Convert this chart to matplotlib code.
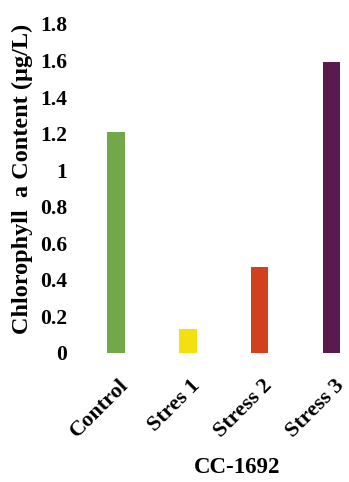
import matplotlib
matplotlib.use("Agg")
import matplotlib.pyplot as plt
from matplotlib.transforms import ScaledTranslation

categories = ["Control", "Stres 1", "Stress 2", "Stress 3"]
values = [1.21, 0.13, 0.47, 1.59]
colors = ["#72a84a", "#f4e010", "#d2401e", "#5b1a4c"]
yticks = [0, 0.2, 0.4, 0.6, 0.8, 1, 1.2, 1.4, 1.6, 1.8]
ytick_labels = ["0", "0.2", "0.4", "0.6", "0.8", "1", "1.2", "1.4", "1.6", "1.8"]

plt.rcParams["font.family"] = ["Liberation Serif", "DejaVu Serif"]
plt.rcParams["font.weight"] = "bold"

W, H = 349, 482
fig = plt.figure(figsize=(W / 100, H / 100), dpi=100)
ax = fig.add_axes([78 / W, (H - 353) / H, (349 - 78) / W, (353 - 24) / H])

x = list(range(len(categories)))
ax.bar(x, values, width=0.24, color=colors)

ax.set_xlim(-0.53, 3.24)
ax.set_ylim(0, 1.8)
ax.set_yticks(yticks)
ax.set_yticklabels(ytick_labels, fontsize=15.5, fontweight="bold")
ax.set_xticks(x)
ax.set_xticklabels(categories, fontsize=16, fontweight="bold",
                   rotation=45, ha="right", va="top", rotation_mode="anchor")
ax.tick_params(axis="both", length=0)
ax.tick_params(axis="y", pad=8)
ax.tick_params(axis="x", pad=16)
shift = ScaledTranslation(2 / 100, 0, fig.dpi_scale_trans)
for lab in ax.get_xticklabels():
    lab.set_transform(lab.get_transform() + shift)
for s in ax.spines.values():
    s.set_visible(False)

ax.set_ylabel("Chlorophyll  a Content (\u00b5g/L)", fontsize=17.5, fontweight="bold")
ax.yaxis.set_label_coords(-0.165, 0.53)
ax.set_xlabel("CC-1692", fontsize=16.5, fontweight="bold")
ax.xaxis.set_label_coords(0.587, -0.315)

fig.savefig("out.png", dpi=100)
